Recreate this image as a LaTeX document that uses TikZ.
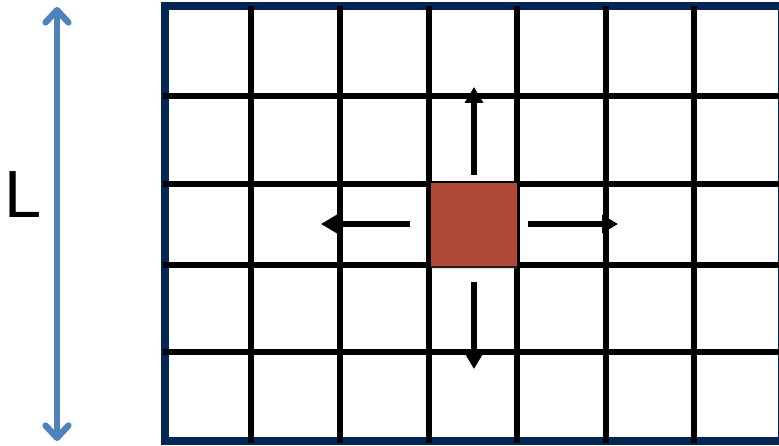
\documentclass[tikz,border=0pt]{standalone}
\usepackage{xcolor}
\usepackage{fontspec}
\setmainfont{Liberation Sans}
\usepackage{tikz}
\usetikzlibrary{positioning, arrows.meta, shadows}

\definecolor{framenavy}{RGB}{4,38,84}
\definecolor{sizeblue}{RGB}{79,129,189}
\definecolor{cellred}{RGB}{176,74,55}

\begin{document}
\begin{tikzpicture}[
    x=0.02cm, y=-0.02cm,
    gridline/.style={line width=3.4pt, black},
    frame/.style={line width=5pt, draw=framenavy},
    cell/.style={fill=cellred, minimum width=1.72cm, minimum height=1.66cm,
                 inner sep=0pt, drop shadow={shadow xshift=0pt, shadow yshift=-1.5pt, opacity=0.25}},
    arr/.style={-{Triangle[length=9pt, width=10pt]}, line width=3.4pt},
    sizearr/.style={{Straight Barb[round, length=7pt, width=13pt]}-{Straight Barb[round, length=7pt, width=13pt]},
                    line width=3.6pt, sizeblue},
]
    \useasboundingbox (0,0) rectangle (779,446);

    % lattice
    \draw[frame] (165,6) rectangle (782,441);
    \draw[gridline] (251,6) -- (251,443) (340,6) -- (340,443) (429,6) -- (429,443)
                    (517,6) -- (517,443) (606,6) -- (606,443) (694,6) -- (694,443);
    \draw[gridline] (163,96) -- (779,96) (163,184) -- (779,184)
                    (163,265) -- (779,265) (163,352) -- (779,352);

    % occupied site
    \node[cell] (site) at (474,224.5) {};

    \coordinate (up) at (474,87);
    \coordinate (down) at (474,369);
    \coordinate (right) at (618,224);
    \coordinate (left) at (321,224);

    \draw[arr] (474,175) -- (up);
    \draw[arr] (474,282) -- (down);
    \draw[arr] (528,224) -- (right);
    \draw[arr] (410,224) -- (left);

    % system size
    \coordinate (top) at (57,7);
    \coordinate (bot) at (57,441);
    \draw[sizearr] (top) -- (bot);
    \node[anchor=base west, inner sep=0pt, font=\fontsize{38}{40}\selectfont] (len) at (4,218) {L};
\end{tikzpicture}
\end{document}
